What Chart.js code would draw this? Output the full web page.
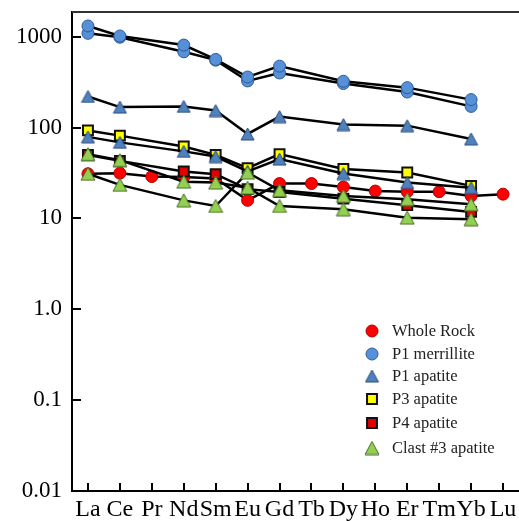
<!DOCTYPE html>
<html>
<head>
<meta charset="utf-8">
<script src="https://cdn.jsdelivr.net/npm/chart.js@4/dist/chart.umd.min.js"></script>
<style>
html,body{margin:0;padding:0;background:#fff;}
#wrap{width:519px;height:521px;position:relative;}
</style>
</head>
<body>
<div id="wrap"><canvas id="c" width="519" height="521"></canvas></div>
<script>
// ---- data ----
const elements = ['La','Ce','Pr','Nd','Sm','Eu','Gd','Tb','Dy','Ho','Er','Tm','Yb','Lu'];
const yTickValues = [0.01, 0.1, 1, 10, 100, 1000];
const yTickLabels = ['0.01', '0.1', '1.0', '10', '100', '1000'];
const seriesNames = ['Whole Rock', 'P1 merrillite', 'P1 apatite', 'P3 apatite', 'P4 apatite', 'Clast #3 apatite'];

const wholeRock      = [31, 31.5, 28.9, 28.5, 27.5, 15.8, 24.2, 24.2, 22.2, 20, 19.7, 19.7, 17.7, 18.5];
const p1Merrillite1  = [1313, 1018, null, 809, 562, 360, 474, null, 323, null, 275, null, 203, null];
const p1Merrillite2  = [1090, 985, null, 682, 552, 326, 399, null, 305, null, 246, null, 171, null];
const p1Apatite1     = [220, 168, null, 171, 154, 85, 132, null, 108, null, 105, null, 75, null];
const p1Apatite2     = [79, 68.7, null, 54.7, 48, 33, 45, null, 31.2, null, 24.8, null, 21.8, null];
const p3Apatite      = [93, 81.5, null, 62, 50, 35.8, 51, null, 35, null, 32, null, 22.8, null];
const p4Apatite      = [50, 43, null, 32.8, 30.7, 21, 19.5, null, 16.5, null, 14, null, 11.8, null];
const clast3Apatite1 = [31, 23.4, null, 15.8, 13.7, 32, 20.4, null, 17.7, null, 16.3, null, 14.3, null];
const clast3Apatite2 = [51, 43.8, null, 25.4, 24.8, 21.8, 13.7, null, 12.6, null, 10.2, null, 9.8, null];

// ---- styles ----
const SERIF = "'Liberation Serif', 'Times New Roman', serif";

// centred triangle marker (box-centred on the data point)
function triangleMarker(w, h, fill, stroke) {
  const c = document.createElement('canvas');
  c.width = w + 2; c.height = h + 2;
  const g = c.getContext('2d');
  g.beginPath();
  g.moveTo(c.width / 2, 1);
  g.lineTo(w + 1, h + 1);
  g.lineTo(1, h + 1);
  g.closePath();
  g.fillStyle = fill; g.fill();
  g.strokeStyle = stroke; g.lineWidth = 1; g.stroke();
  return c;
}

const styles = {
  'Whole Rock':       {pointStyle:'circle', radius:6, bg:'#ff0000', border:'#b00000', bw:1, order:4},
  'P1 merrillite':    {pointStyle:'circle', radius:6, bg:'#5590d8', border:'#2d5c96', bw:1, order:5},
  'P1 apatite':       {pointStyle:triangleMarker(13, 12, '#4f81bd', '#2b4d78'), radius:7, bg:'#4f81bd', border:'#2b4d78', bw:1, order:1},
  'P3 apatite':       {pointStyle:'rect',   radius:7, bg:'#ffff00', border:'#111111', bw:2, order:2},
  'P4 apatite':       {pointStyle:'rect',   radius:7, bg:'#e00000', border:'#111111', bw:2, order:3},
  'Clast #3 apatite': {pointStyle:triangleMarker(14, 13, '#92d050', '#4a6b2c'), radius:7, bg:'#92d050', border:'#4a6b2c', bw:1, order:0}
};

function ds(name, values) {
  const s = styles[name];
  return {
    label: name, data: values, spanGaps: true,
    borderColor: '#000', borderWidth: 2.5, tension: 0,
    pointStyle: s.pointStyle, pointRadius: s.radius,
    pointBackgroundColor: s.bg, pointBorderColor: s.border, pointBorderWidth: s.bw,
    order: s.order
  };
}

const datasets = [
  ds('Whole Rock', wholeRock),
  ds('P1 merrillite', p1Merrillite1),
  ds('P1 merrillite', p1Merrillite2),
  ds('P1 apatite', p1Apatite1),
  ds('P1 apatite', p1Apatite2),
  ds('P3 apatite', p3Apatite),
  ds('P4 apatite', p4Apatite),
  ds('Clast #3 apatite', clast3Apatite1),
  ds('Clast #3 apatite', clast3Apatite2)
];

// inward ticks + top frame
const framePlugin = {
  id: 'frame',
  beforeDatasetsDraw(chart) {
    const {ctx, chartArea: a, scales} = chart;
    ctx.save();
    ctx.strokeStyle = '#000';
    ctx.lineWidth = 2;
    ctx.beginPath();
    const xs = scales.x;
    for (let i = 0; i < xs.ticks.length; i++) {
      const px = Math.round(xs.getPixelForTick(i));
      ctx.moveTo(px, a.bottom);
      ctx.lineTo(px, a.bottom - 8);
    }
    const ys = scales.y;
    for (let i = 0; i < ys.ticks.length; i++) {
      const py = Math.round(ys.getPixelForTick(i));
      ctx.moveTo(a.left, py);
      ctx.lineTo(a.left + 9, py);
    }
    ctx.stroke();
    ctx.strokeStyle = '#333';
    ctx.beginPath();
    ctx.moveTo(a.left, a.top);
    ctx.lineTo(a.right, a.top);
    ctx.stroke();
    ctx.restore();
  }
};

// legend inside plot area
const legendPlugin = {
  id: 'innerLegend',
  afterDatasetsDraw(chart) {
    const {ctx, chartArea: a} = chart;
    const mx = a.right - 147, tx = mx + 20;
    const y0 = a.bottom - 160;
    const gaps = [0, 23, 45, 68, 92, 117];
    ctx.save();
    ctx.font = '16.5px ' + SERIF;
    ctx.textBaseline = 'middle';
    ctx.textAlign = 'left';
    seriesNames.forEach((name, i) => {
      const s = styles[name];
      const y = y0 + gaps[i];
      ctx.fillStyle = s.bg;
      ctx.strokeStyle = s.border;
      ctx.lineWidth = s.bw;
      Chart.helpers.drawPoint(ctx, {pointStyle: s.pointStyle, radius: s.radius, rotation: 0, borderWidth: s.bw}, mx, y);
      ctx.fillStyle = '#222';
      ctx.fillText(name, tx, y + 1);
    });
    ctx.restore();
  }
};

new Chart(document.getElementById('c'), {
  type: 'line',
  data: { labels: elements, datasets },
  options: {
    responsive: false,
    animation: false,
    devicePixelRatio: 1,
    layout: { autoPadding: false, padding: { top: 12, right: 0, left: 0, bottom: 0 } },
    plugins: { legend: { display: false }, tooltip: { enabled: false } },
    scales: {
      x: {
        type: 'category',
        offset: true,
        grid: { drawOnChartArea: false, drawTicks: false },
        border: { display: true, color: '#000', width: 2 },
        ticks: { autoSkip: false, maxRotation: 0, minRotation: 0, padding: 4,
                 color: '#000', font: { family: SERIF, size: 24 } },
        afterFit(s) { s.height = 30; s.paddingLeft = 0; s.paddingRight = 0; }
      },
      y: {
        type: 'logarithmic',
        min: 0.01, max: 1870,
        grid: { drawOnChartArea: false, drawTicks: false },
        border: { display: true, color: '#000', width: 2 },
        afterBuildTicks(s) { s.ticks = yTickValues.map(v => ({ value: v })); },
        ticks: { padding: 10, color: '#000', font: { family: SERIF, size: 23 },
                 callback: (v, i) => yTickLabels[i] },
        afterFit(s) { s.width = 72; s.paddingTop = 0; s.paddingBottom = 0; }
      }
    }
  },
  plugins: [framePlugin, legendPlugin]
});
</script>
</body>
</html>
